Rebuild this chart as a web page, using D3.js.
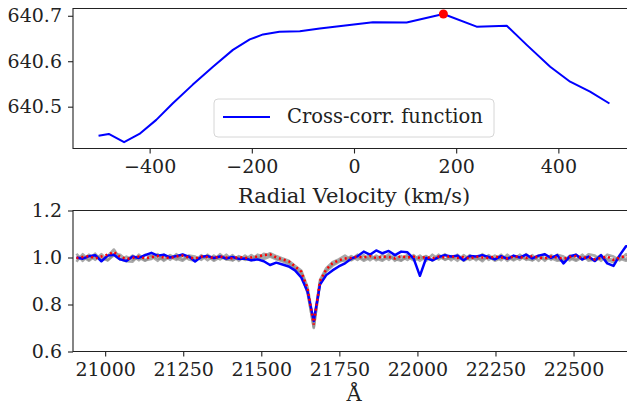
<!DOCTYPE html>
<html>
<head>
<meta charset="utf-8">
<script src="https://cdn.jsdelivr.net/npm/d3@7"></script>
<style>
  html, body { margin: 0; padding: 0; background: #fff; }
  svg text { fill: #222; }
</style>
</head>
<body>
<svg id="canvas" width="627" height="405"></svg>
<script>
// --- top panel: cross-correlation function ---
const velocity = [-500, -480, -450, -420, -387, -355, -316, -276, -237, -204, -178, -146, -106, -67,
  37, 103, 175, 240, 299, 338, 384, 423, 462, 500];
const ccf = [640.436, 640.440, 640.422, 640.440, 640.471, 640.507, 640.548, 640.588, 640.625, 640.648,
  640.659, 640.665, 640.666, 640.672, 640.686, 640.685, 640.704, 640.676, 640.678, 640.636,
  640.588, 640.555, 640.533, 640.507];
const peakVel = 175, peakVal = 640.704;
const velTicks = [-400, -200, 0, 200, 400];
const ccfTicks = [640.5, 640.6, 640.7];

// --- bottom panel: spectra (sampled every 20 A from 20908) ---
const wavelength = d3.range(20908, 22700, 20);
const fluxObs = [1.000, 0.995, 1.005, 1.010, 0.984, 1.008, 1.012, 0.992, 0.985, 1.004,
  0.998, 1.010, 1.020, 1.008, 1.012, 1.000, 1.006, 1.013, 1.004, 0.983,
  1.003, 1.006, 0.998, 1.004, 0.996, 1.002, 0.994, 0.996, 0.988, 0.992,
  0.984, 0.968, 0.978, 0.970, 0.962, 0.945, 0.915, 0.855, 0.730, 0.885,
  0.925, 0.945, 0.962, 0.975, 0.995, 1.005, 1.025, 1.012, 1.030, 1.018,
  1.028, 1.010, 1.025, 1.022, 0.995, 0.922, 0.998, 0.988, 1.002, 1.010,
  1.004, 1.008, 0.988, 1.006, 1.004, 1.010, 1.002, 0.992, 1.006, 0.994,
  1.008, 1.000, 1.012, 0.996, 1.008, 1.014, 0.998, 1.010, 0.975, 1.005,
  1.012, 0.992, 1.004, 0.985, 1.010, 0.975, 0.964, 1.010, 1.048, 1.050];
const fluxModel = [0.998, 1.002, 1.006, 0.996, 1.004, 1.012, 1.024, 1.002, 0.994, 0.998,
  1.004, 0.996, 1.002, 1.006, 1.000, 0.998, 1.004, 1.008, 1.000, 0.996,
  1.004, 1.002, 0.998, 1.004, 1.000, 0.996, 1.002, 0.998, 1.000, 1.004,
  1.010, 1.014, 1.000, 0.992, 0.984, 0.962, 0.940, 0.870, 0.715, 0.900,
  0.950, 0.975, 0.988, 0.996, 0.998, 1.004, 1.000, 1.006, 0.998, 1.004,
  1.002, 0.996, 1.006, 1.000, 1.004, 0.998, 1.002, 0.996, 1.004, 1.000,
  1.006, 0.998, 1.002, 0.996, 1.004, 1.000, 0.998, 1.004, 1.000, 0.996,
  1.004, 1.002, 0.998, 1.006, 1.000, 0.996, 1.004, 1.000, 0.994, 1.002,
  1.006, 0.998, 1.002, 0.992, 0.998, 1.004, 0.990, 1.000, 1.006, 1.004];
const fluxTemplateA = [0.982, 1.014, 0.990, 1.016, 0.986, 1.006, 1.034, 0.994, 0.984, 0.982,
  1.012, 0.988, 0.994, 1.014, 0.986, 1.004, 0.990, 1.012, 0.992, 0.986,
  1.010, 0.988, 1.008, 0.992, 1.012, 0.988, 1.002, 0.990, 1.010, 0.992,
  1.016, 1.008, 0.996, 0.988, 0.978, 0.955, 0.935, 0.860, 0.700, 0.895,
  0.945, 0.970, 0.985, 0.986, 1.006, 0.990, 1.010, 0.988, 1.008, 0.992,
  1.014, 0.986, 1.006, 0.990, 1.010, 0.986, 1.004, 0.988, 1.012, 0.990,
  1.006, 0.986, 1.010, 0.990, 1.004, 0.984, 1.010, 0.992, 1.012, 0.986,
  1.006, 0.990, 1.014, 0.988, 1.008, 0.986, 1.010, 0.992, 0.984, 1.008,
  0.990, 1.012, 0.986, 0.994, 1.010, 0.988, 0.980, 1.008, 0.992, 1.012];
const fluxTemplateB = [1.016, 0.986, 1.012, 0.990, 1.014, 0.988, 1.016, 1.012, 0.988, 1.008,
  0.988, 1.012, 1.006, 0.986, 1.012, 0.990, 1.014, 0.992, 1.008, 1.004,
  0.990, 1.012, 0.990, 1.014, 0.992, 1.010, 0.986, 1.008, 0.990, 1.012,
  1.004, 1.018, 1.006, 0.996, 0.986, 0.965, 0.945, 0.875, 0.720, 0.905,
  0.955, 0.980, 0.992, 1.008, 0.990, 1.012, 0.992, 1.014, 0.988, 1.012,
  0.990, 1.010, 0.988, 1.012, 0.992, 1.008, 0.986, 1.012, 0.992, 1.014,
  0.988, 1.012, 0.990, 1.010, 0.988, 1.014, 0.990, 1.008, 0.988, 1.012,
  0.992, 1.012, 0.990, 1.010, 0.986, 1.014, 0.990, 1.012, 1.004, 0.988,
  1.012, 0.990, 1.014, 1.008, 0.986, 1.012, 1.004, 0.988, 1.014, 1.004];
const fluxTemplateC = [0.994, 1.004, 0.986, 1.006, 0.996, 0.988, 1.010, 0.992, 1.004, 0.990,
  1.000, 0.986, 1.008, 0.996, 0.992, 1.010, 0.996, 0.986, 1.006, 0.992,
  0.998, 1.006, 0.986, 1.002, 0.992, 0.988, 1.006, 0.994, 0.988, 1.002,
  0.994, 1.004, 0.992, 0.984, 0.972, 0.950, 0.930, 0.850, 0.705, 0.890,
  0.940, 0.965, 0.980, 0.994, 0.988, 1.004, 0.986, 1.000, 0.996, 0.986,
  1.004, 0.994, 0.986, 1.004, 0.988, 0.996, 1.006, 0.988, 1.002, 0.992,
  0.998, 1.004, 0.986, 1.000, 0.996, 0.992, 1.004, 0.986, 0.998, 1.002,
  0.988, 1.002, 0.994, 0.988, 1.004, 0.994, 0.998, 0.986, 0.992, 0.998,
  0.986, 1.002, 0.994, 0.986, 1.000, 0.994, 0.990, 0.996, 0.986, 0.998];
const wlTicks = [21000, 21250, 21500, 21750, 22000, 22250, 22500];
const fluxTicks = [0.6, 0.8, 1.0, 1.2];

const svg = d3.select('#canvas');
const tickSize = 19, labelSize = 21, legendSize = 19.5;
const serif = '"DejaVu Serif", "Liberation Serif", serif';

// shared axis styling
function styleAxis(g){
  g.attr('font-family', serif);
  g.select('.domain').remove();
  g.selectAll('.tick line').attr('stroke', '#222').attr('stroke-width', 1.1);
  g.selectAll('.tick text').attr('font-size', tickSize).attr('fill', '#222');
}

// ---------- top panel ----------
const topBox = {left: 73, right: 635, top: 8.5, bottom: 148.5};
const xV = d3.scaleLinear().domain([-550, 550]).range([topBox.left, topBox.right]);
const yC = d3.scaleLinear().domain([640.408, 640.716]).range([topBox.bottom, topBox.top]);

svg.append('g').attr('transform', `translate(0,${topBox.bottom})`)
  .call(d3.axisBottom(xV).tickValues(velTicks).tickSize(5).tickPadding(6).tickFormat(d3.format('d')))
  .call(styleAxis);
svg.append('g').attr('transform', `translate(${topBox.left},0)`)
  .call(d3.axisLeft(yC).tickValues(ccfTicks).tickSize(5).tickPadding(6).tickFormat(d3.format('.1f')))
  .call(styleAxis);

svg.append('path')
  .datum(velocity.map((v, i) => [v, ccf[i]]))
  .attr('fill', 'none').attr('stroke', '#0000ff').attr('stroke-width', 2)
  .attr('stroke-linejoin', 'round')
  .attr('d', d3.line().x(d => xV(d[0])).y(d => yC(d[1])));

svg.append('circle')
  .attr('cx', xV(peakVel)).attr('cy', yC(peakVal)).attr('r', 4.5).attr('fill', '#ff0000');

// legend
const lg = svg.append('g');
lg.append('rect').attr('x', 214).attr('y', 99).attr('width', 280).attr('height', 38)
  .attr('rx', 4).attr('fill', '#fff').attr('fill-opacity', 0.85).attr('stroke', '#d6d6d6');
lg.append('line').attr('x1', 223).attr('x2', 270).attr('y1', 117).attr('y2', 117)
  .attr('stroke', '#0000ff').attr('stroke-width', 2);
lg.append('text').attr('x', 287).attr('y', 117).attr('dy', '0.33em')
  .attr('font-family', serif).attr('font-size', legendSize).text('Cross-corr. function');

// spines
svg.append('path').attr('fill', 'none').attr('stroke', '#222').attr('stroke-width', 1.1)
  .attr('d', `M${topBox.right},${topBox.top}H${topBox.left}V${topBox.bottom}H${topBox.right}`);

svg.append('text').attr('x', (topBox.left + topBox.right) / 2).attr('y', 203)
  .attr('text-anchor', 'middle').attr('font-family', serif).attr('font-size', labelSize)
  .text('Radial Velocity (km/s)');

// ---------- bottom panel ----------
const botBox = {left: 73, right: 636, top: 210.5, bottom: 351.5};
const xW = d3.scaleLinear().domain([20897, 22700]).range([botBox.left, botBox.right]);
const yF = d3.scaleLinear().domain([0.6, 1.2]).range([botBox.bottom, botBox.top]);

svg.append('defs').append('clipPath').attr('id', 'clipBot')
  .append('rect').attr('x', botBox.left).attr('y', botBox.top)
  .attr('width', botBox.right - botBox.left).attr('height', botBox.bottom - botBox.top);

svg.append('g').attr('transform', `translate(0,${botBox.bottom})`)
  .call(d3.axisBottom(xW).tickValues(wlTicks).tickSize(5).tickPadding(6).tickFormat(d3.format('d')))
  .call(styleAxis);
svg.append('g').attr('transform', `translate(${botBox.left},0)`)
  .call(d3.axisLeft(yF).tickValues(fluxTicks).tickSize(5).tickPadding(6).tickFormat(d3.format('.1f')))
  .call(styleAxis);

const specLine = d3.line().x((d, i) => xW(wavelength[i])).y(d => yF(d));
const plot = svg.append('g').attr('clip-path', 'url(#clipBot)');

[fluxTemplateA, fluxTemplateB, fluxTemplateC].forEach(f => {
  plot.append('path').datum(f)
    .attr('fill', 'none').attr('stroke', '#8c8c8c').attr('stroke-opacity', 0.75)
    .attr('stroke-width', 2.6).attr('stroke-linejoin', 'round')
    .attr('d', specLine);
});
plot.append('path').datum(fluxObs)
  .attr('fill', 'none').attr('stroke', '#0000ff').attr('stroke-width', 2.5)
  .attr('stroke-linejoin', 'round').attr('d', specLine);
plot.append('path').datum(fluxModel)
  .attr('fill', 'none').attr('stroke', '#ff0000').attr('stroke-width', 2.5)
  .attr('stroke-dasharray', '2,3').attr('d', specLine);

svg.append('path').attr('fill', 'none').attr('stroke', '#222').attr('stroke-width', 1.1)
  .attr('d', `M${botBox.right},${botBox.top}H${botBox.left}V${botBox.bottom}H${botBox.right}`);

svg.append('text').attr('x', 354).attr('y', 401)
  .attr('text-anchor', 'middle').attr('font-family', serif).attr('font-size', labelSize).text('Å');
</script>
</body>
</html>
